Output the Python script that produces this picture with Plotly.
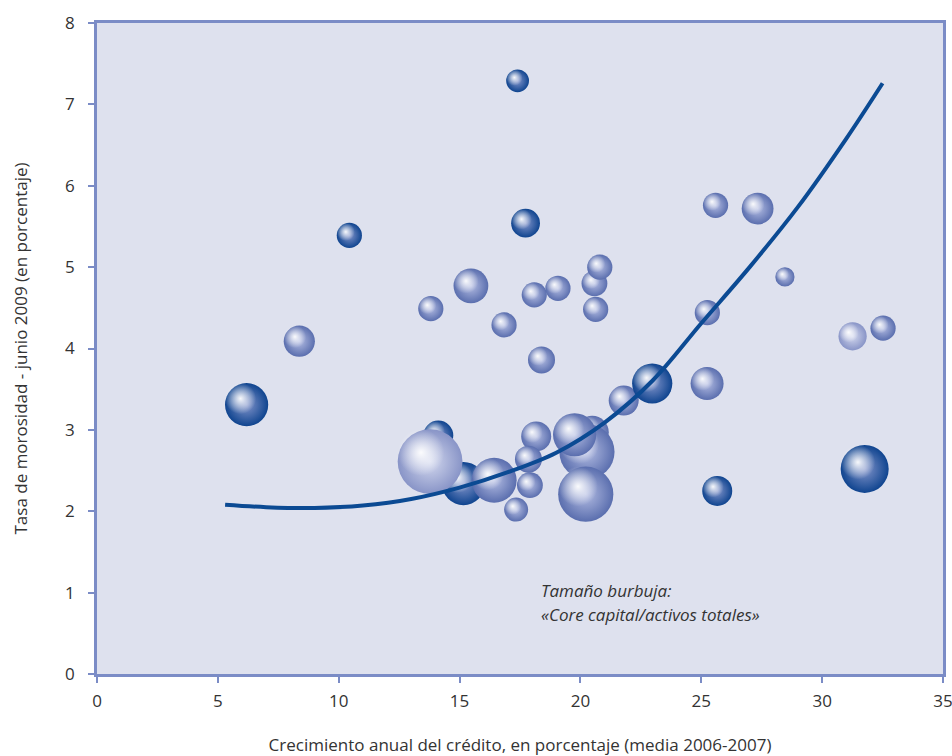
import plotly.graph_objects as go

# ---- data ----
credito = [6.19, 8.37, 10.44, 13.81, 15.47, 16.84, 17.40, 17.73, 18.09, 19.07,
           20.58, 20.80, 20.63, 18.39, 14.12, 15.16, 13.78, 16.43, 17.34, 18.17,
           17.85, 17.91, 20.49, 20.27, 19.76, 20.22, 22.97, 21.79, 25.24, 25.66,
           25.59, 27.33, 28.46, 25.25, 31.26, 32.52, 31.76]
morosidad = [3.31, 4.09, 5.39, 4.49, 4.77, 4.29, 7.29, 5.54, 4.66, 4.74,
             4.80, 5.00, 4.48, 3.86, 2.93, 2.34, 2.61, 2.38, 2.02, 2.92,
             2.64, 2.32, 2.97, 2.73, 2.94, 2.21, 3.57, 3.36, 3.57, 2.25,
             5.76, 5.72, 4.88, 4.44, 4.15, 4.25, 2.52]
# bubble value (core capital / total assets, relative)
burbuja = [7.2, 5.2, 4.2, 4.2, 5.8, 4.2, 3.8, 4.8, 4.2, 4.2,
           4.3, 4.2, 4.2, 4.5, 5.0, 7.2, 10.8, 7.5, 4.0, 5.0,
           4.5, 4.3, 5.5, 9.2, 7.2, 9.2, 6.7, 5.0, 5.5, 5.0,
           4.2, 5.3, 3.2, 4.2, 4.7, 4.2, 8.0]
# shade group: 0 dark, 1 light, 2 pale
tono = [0, 1, 0, 1, 1, 1, 0, 0, 1, 1,
        1, 1, 1, 1, 0, 0, 2, 1, 1, 1,
        1, 1, 1, 1, 1, 1, 0, 1, 1, 0,
        1, 1, 1, 1, 2, 1, 0]

curva_x = [5.3, 7, 9, 11, 13, 15, 17, 19, 21, 23, 25, 27, 29, 31, 32.5]
curva_y = [2.08, 2.05, 2.04, 2.07, 2.15, 2.29, 2.48, 2.72, 3.09, 3.61, 4.31, 5.00, 5.74, 6.58, 7.26]

x_ticks = [0, 5, 10, 15, 20, 25, 30, 35]
y_ticks = [0, 1, 2, 3, 4, 5, 6, 7, 8]

titulo_x = "Crecimiento anual del crédito, en porcentaje (media 2006-2007)"
titulo_y = "Tasa de morosidad - junio 2009 (en porcentaje)"
nota_1 = "Tamaño burbuja:"
nota_2 = "«Core capital/activos totales»"

# ---- styling ----
W, H = 952, 756
M = dict(l=97, r=9, t=23, b=82)
X_RANGE = [0, 35]
Y_RANGE = [0, 8]
px_x = (W - M["l"] - M["r"]) / (X_RANGE[1] - X_RANGE[0])
px_y = (H - M["t"] - M["b"]) / (Y_RANGE[1] - Y_RANGE[0])
SIZE_SCALE = 6.0  # px of diameter per bubble unit

edge_col = {0: "#0f448f", 1: "#5a6eae", 2: "#8894c7"}
mid_col = {0: "#8395cb", 1: "#b3bce2", 2: "#d3d8ee"}
axis_col = "#7b8cc6"
font_fam = "Open Sans, Noto Sans, sans-serif"
txt_col = "#333333"

fig = go.Figure()

# drawing order (back to front)
orden = list(range(14)) + [14, 15, 16, 17, 18, 19, 20, 21, 22, 23, 24, 25, 27, 26] + list(range(28, 37))

for i in orden:
    d = burbuja[i] * SIZE_SCALE
    fig.add_trace(go.Scatter(
        x=[credito[i]], y=[morosidad[i]], mode="markers",
        marker=dict(size=d, color=edge_col[tono[i]], opacity=1,
                    line=dict(width=0),
                    gradient=dict(type="radial", color=mid_col[tono[i]])),
        hoverinfo="skip", showlegend=False))
    # specular highlight, offset toward upper-left
    off = 0.28 * d / 2
    fig.add_trace(go.Scatter(
        x=[credito[i] - off / px_x], y=[morosidad[i] + off / px_y], mode="markers",
        marker=dict(size=d * 0.72, color="rgba(255,255,255,0)", opacity=1,
                    line=dict(width=0),
                    gradient=dict(type="radial", color="rgba(255,255,255,0.95)")),
        hoverinfo="skip", showlegend=False))

fig.add_trace(go.Scatter(
    x=curva_x, y=curva_y, mode="lines",
    line=dict(color="#0b4a93", width=4, shape="spline", smoothing=1.0),
    hoverinfo="skip", showlegend=False))

fig.add_annotation(x=18.29, y=1.03, xref="x", yref="y", text=nota_1,
                   showarrow=False, xanchor="left", yanchor="middle",
                   font=dict(family=font_fam, size=17, color=txt_col, style="italic"))
fig.add_annotation(x=18.29, y=0.73, xref="x", yref="y", text=nota_2,
                   showarrow=False, xanchor="left", yanchor="middle",
                   font=dict(family=font_fam, size=17, color=txt_col, style="italic"))

fig.update_layout(
    width=W, height=H, margin=M,
    paper_bgcolor="white", plot_bgcolor="#dee1ee",
    font=dict(family=font_fam, size=17, color=txt_col),
    xaxis=dict(range=X_RANGE, tickvals=x_ticks, ticktext=[str(v) for v in x_ticks],
               showgrid=False, zeroline=False, showline=True, mirror=True,
               linecolor=axis_col, linewidth=2.5, automargin=False,
               ticks="outside", ticklen=6, tickwidth=2, tickcolor=axis_col,
               ticklabelstandoff=4, ticklabeloverflow="allow",
               tickfont=dict(size=17, color=txt_col),
               title=dict(text=titulo_x, standoff=28, font=dict(size=17, color=txt_col))),
    yaxis=dict(range=Y_RANGE, tickvals=y_ticks, ticktext=[str(v) for v in y_ticks],
               showgrid=False, zeroline=False, showline=True, mirror=True,
               linecolor=axis_col, linewidth=2.5, automargin=False,
               ticks="outside", ticklen=6, tickwidth=2, tickcolor=axis_col,
               ticklabelstandoff=10, ticklabeloverflow="allow",
               tickfont=dict(size=17, color=txt_col),
               title=dict(text=titulo_y, standoff=34, font=dict(size=17, color=txt_col))),
)

fig.write_html("out.html", config={"displayModeBar": False},
               post_script="document.body.style.margin='0';")
